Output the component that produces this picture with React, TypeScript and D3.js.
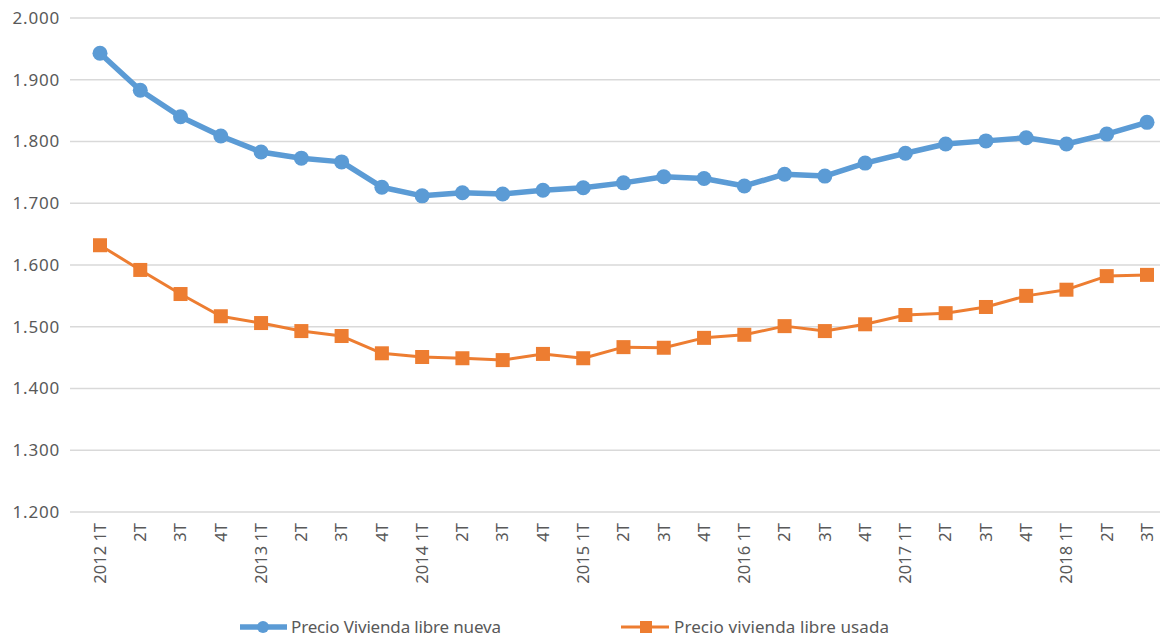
import { useEffect, useRef } from "react";
import * as d3 from "d3";

const categories = [
  "2012 1T", "2T", "3T", "4T",
  "2013 1T", "2T", "3T", "4T",
  "2014 1T", "2T", "3T", "4T",
  "2015 1T", "2T", "3T", "4T",
  "2016 1T", "2T", "3T", "4T",
  "2017 1T", "2T", "3T", "4T",
  "2018 1T", "2T", "3T",
];

const nueva = [
  1943, 1883, 1840, 1809, 1783, 1773, 1767, 1726,
  1712, 1717, 1715, 1721, 1725, 1733, 1743, 1740,
  1728, 1747, 1744, 1765, 1781, 1796, 1801, 1806,
  1796, 1812, 1831,
];

const usada = [
  1632, 1592, 1553, 1517, 1506, 1493, 1485, 1457,
  1451, 1449, 1446, 1456, 1449, 1467, 1466, 1482,
  1487, 1501, 1493, 1504, 1519, 1522, 1532, 1550,
  1560, 1582, 1584,
];

const yTicks = [1200, 1300, 1400, 1500, 1600, 1700, 1800, 1900, 2000];

const BLUE = "#5B9BD5";
const ORANGE = "#ED7D31";
const FONT = "'Noto Sans', sans-serif";

export default function App() {
  const svgRef = useRef<SVGSVGElement>(null);

  useEffect(() => {
    if (!svgRef.current) return;
    const svg = d3.select(svgRef.current);
    svg.selectAll("*").remove();

    const left = 70;
    const right = 1160;
    const top = 18;
    const bottom = 512;

    const x = d3.scalePoint<number>()
      .domain(categories.map((_, i) => i))
      .range([100, 1147]);
    const y = d3.scaleLinear().domain([1200, 2000]).range([bottom, top]);
    // 1.200 style (dot as thousands separator)
    const fmt = (v: number) => (v / 1000).toFixed(3);

    svg.append("g")
      .selectAll("line")
      .data(yTicks)
      .enter()
      .append("line")
      .attr("x1", left)
      .attr("x2", right)
      .attr("y1", (d) => y(d))
      .attr("y2", (d) => y(d))
      .attr("stroke", "#d9d9d9")
      .attr("stroke-width", 1.5);

    svg.append("g")
      .selectAll("text")
      .data(yTicks)
      .enter()
      .append("text")
      .attr("x", 60)
      .attr("y", (d) => y(d))
      .attr("dy", "0.35em")
      .attr("text-anchor", "end")
      .attr("font-family", FONT)
      .attr("font-size", 17)
      .attr("letter-spacing", 0.8)
      .attr("fill", "#595959")
      .text((d) => fmt(d));

    svg.append("g")
      .selectAll("text")
      .data(categories)
      .enter()
      .append("text")
      .attr("transform", (_, i) => `translate(${x(i)},${bottom + 11}) rotate(-90)`)
      .attr("dy", "0.35em")
      .attr("text-anchor", "end")
      .attr("font-family", FONT)
      .attr("font-size", 16.5)
      .attr("fill", "#595959")
      .text((d) => d);

    const line = d3.line<number>()
      .x((_, i) => x(i) as number)
      .y((d) => y(d));

    svg.append("path")
      .datum(nueva)
      .attr("d", line)
      .attr("fill", "none")
      .attr("stroke", BLUE)
      .attr("stroke-width", 5.5)
      .attr("stroke-linejoin", "round");
    svg.append("g")
      .selectAll("circle")
      .data(nueva)
      .enter()
      .append("circle")
      .attr("cx", (_, i) => x(i) as number)
      .attr("cy", (d) => y(d))
      .attr("r", 7.5)
      .attr("fill", BLUE);

    svg.append("path")
      .datum(usada)
      .attr("d", line)
      .attr("fill", "none")
      .attr("stroke", ORANGE)
      .attr("stroke-width", 3)
      .attr("stroke-linejoin", "round");
    svg.append("g")
      .selectAll("rect")
      .data(usada)
      .enter()
      .append("rect")
      .attr("x", (_, i) => (x(i) as number) - 7)
      .attr("y", (d) => y(d) - 7)
      .attr("width", 14)
      .attr("height", 14)
      .attr("fill", ORANGE);

    // legend
    const ly = 627;
    const leg = svg.append("g");
    leg.append("line")
      .attr("x1", 240).attr("x2", 287).attr("y1", ly).attr("y2", ly)
      .attr("stroke", BLUE).attr("stroke-width", 5.5);
    leg.append("circle")
      .attr("cx", 263).attr("cy", ly).attr("r", 6).attr("fill", BLUE);
    leg.append("text")
      .attr("x", 291).attr("y", ly).attr("dy", "0.35em")
      .attr("font-family", FONT).attr("font-size", 17).attr("fill", "#595959")
      .attr("textLength", 210)
      .text("Precio Vivienda libre nueva");
    leg.append("line")
      .attr("x1", 621).attr("x2", 669).attr("y1", ly).attr("y2", ly)
      .attr("stroke", ORANGE).attr("stroke-width", 3);
    leg.append("rect")
      .attr("x", 640).attr("y", ly - 6).attr("width", 12).attr("height", 12)
      .attr("fill", ORANGE);
    leg.append("text")
      .attr("x", 674).attr("y", ly).attr("dy", "0.35em")
      .attr("font-family", FONT).attr("font-size", 17).attr("fill", "#595959")
      .attr("textLength", 215)
      .text("Precio vivienda libre usada");

    svg.attr("width", 1160).attr("height", 639);
  }, []);

  return (
    <div
      style={{
        position: "fixed",
        left: 0,
        top: 0,
        width: 1160,
        height: 639,
        overflow: "hidden",
        background: "#fff",
      }}
    >
      <svg ref={svgRef} style={{ display: "block" }} />
    </div>
  );
}
